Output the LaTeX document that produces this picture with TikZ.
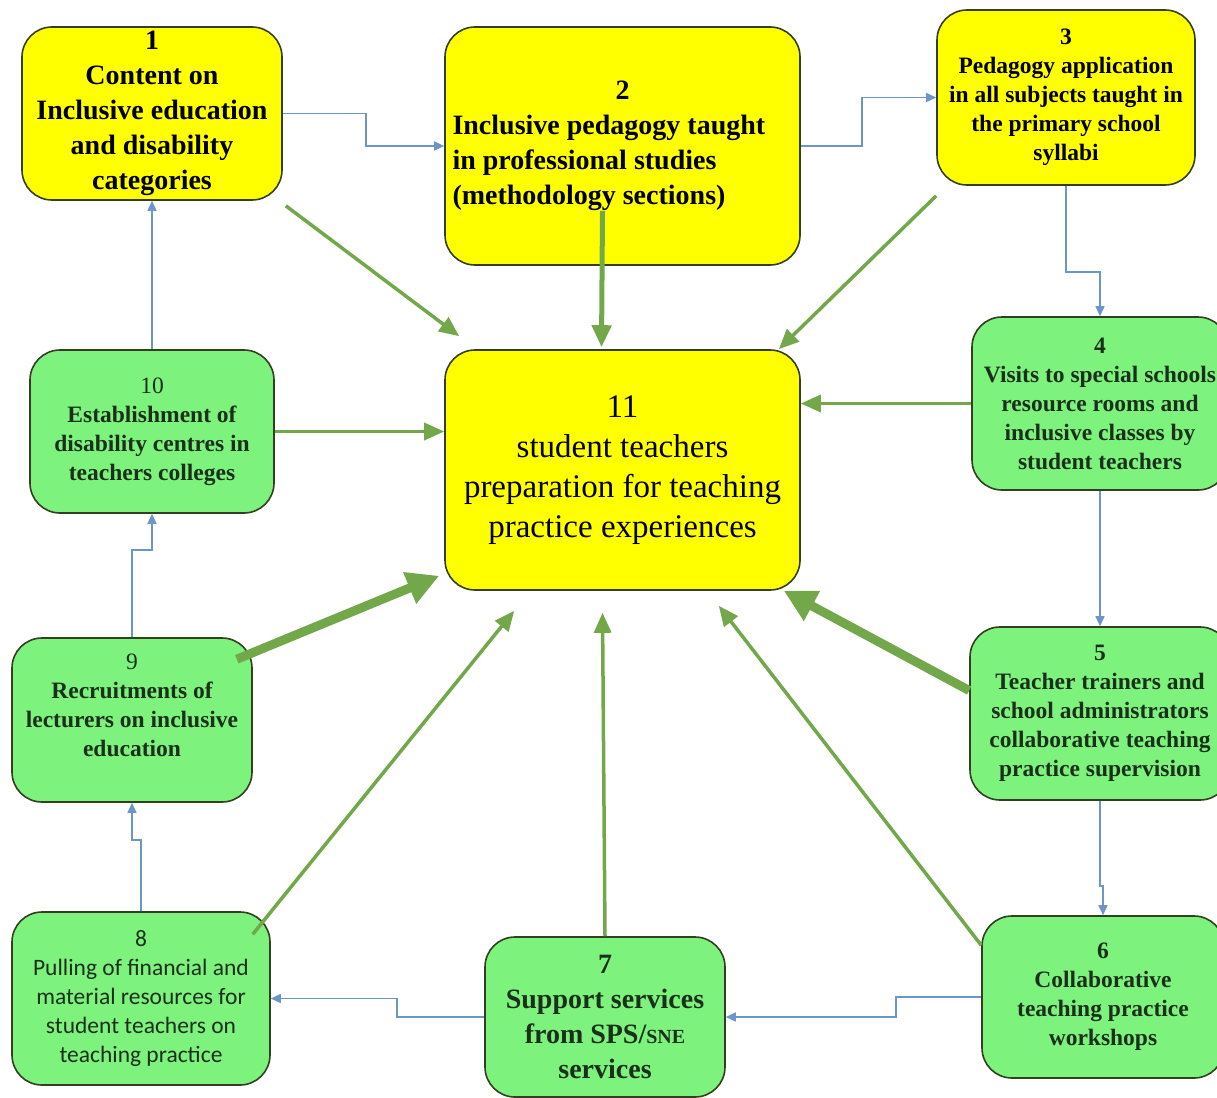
\documentclass[tikz,border=0pt]{standalone}
\usepackage{fontspec}
\setmainfont{LiberationSerif}[Extension=.ttf, UprightFont=*-Regular, BoldFont=*-Bold, ItalicFont=*-Italic, BoldItalicFont=*-BoldItalic]
\newfontfamily\calib{Carlito}
\usetikzlibrary{arrows.meta,calc}
\definecolor{ylw}{HTML}{FFFF00}
\definecolor{grn}{HTML}{7DF27D}
\definecolor{bord}{HTML}{333F22}
\definecolor{arrg}{HTML}{72A84A}
\definecolor{arrb}{HTML}{6C96C8}
\definecolor{gtxt}{HTML}{1B301B}
\begin{document}
\begin{tikzpicture}[x=1pt,y=-1pt,
  box/.style={draw=bord, line width=1.6pt, rounded corners=30pt, inner sep=0pt, align=center},
  ybox/.style={box, fill=ylw, text=black},
  gbox/.style={box, fill=grn, text=gtxt},
  bigf/.style={font=\fontsize{28}{35}\selectfont\bfseries},
  midf/.style={font=\fontsize{23.5}{29}\selectfont\bfseries},
  blu/.style={draw=arrb, line width=1.5pt, -{Triangle[length=10pt,width=9pt]}},
  gthin/.style={draw=arrg, line width=3.5pt, -{Triangle[length=20pt,width=17pt]}},
  gmid/.style={draw=arrg, line width=5pt, -{Triangle[length=22pt,width=19pt]}},
  gthick/.style={draw=arrg, line width=9pt, -{Triangle[length=32pt,width=32pt]}}
]
\useasboundingbox (0,0) rectangle (1217,1097);
\fill[white] (0,0) rectangle (1217,1097);
\clip (0,0) rectangle (1217,1097);

% boxes
\node[ybox, bigf, minimum width=260pt, minimum height=173pt] (b1) at (152,113.5)
  {1\\Content on\\Inclusive education\\and disability\\categories};
\node[ybox, bigf, minimum width=355pt, minimum height=238pt, align=left] (b2) at (622.5,146)
  {\makebox[340pt]{2}\\Inclusive pedagogy taught\\in professional studies\\(methodology sections)};
\node[ybox, midf, minimum width=258pt, minimum height=175pt] (b3) at (1066,97.5)
  {3\\Pedagogy application\\in all subjects taught in\\the primary school\\syllabi};
\node[gbox, midf, minimum width=256pt, minimum height=173pt] (b4) at (1100,403.5)
  {4\\Visits to special schools\\resource rooms and\\inclusive classes by\\student teachers};
\node[gbox, midf, minimum width=260pt, minimum height=173pt] (b5) at (1100,713.5)
  {5\\Teacher trainers and\\school administrators\\collaborative teaching\\practice supervision};
\node[gbox, midf, minimum width=242pt, minimum height=162pt] (b6) at (1103,997)
  {6\\Collaborative\\teaching practice\\workshops};
\node[gbox, bigf, minimum width=240pt, minimum height=160pt] (b7) at (605,1017)
  {7\\Support services\\from SPS/{\fontsize{20}{35}\selectfont SNE}\\services};
\node[gbox, font=\calib\fontsize{23.5}{29}\selectfont, minimum width=258pt, minimum height=173pt] (b8) at (141,998.5)
  {8\\Pulling of financial and\\material resources for\\student teachers on\\teaching practice};
\node[gbox, midf, minimum width=240pt, minimum height=164pt] (b9) at (132,720)
  {{\mdseries 9}\\Recruitments of\\lecturers on inclusive\\education\\\mbox{}};
\node[gbox, midf, minimum width=244pt, minimum height=163pt] (b10) at (152,431.5)
  {{\mdseries 10}\\Establishment of\\disability centres in\\teachers colleges};
\node[ybox, font=\fontsize{33}{40}\selectfont, minimum width=355pt, minimum height=240pt] (b11) at (622.5,470)
  {11\\student teachers\\preparation for teaching\\practice experiences};

% blue cycle connectors
\draw[blu] (b1.east) -| (366,146) -- (b2.west);
\draw[blu] (b2.east) -| (862,97.5) -- (b3.west);
\draw[blu] (b3.south) |- (1100,272) -- (b4.north);
\draw[blu] (b4.south) -- (b5.north);
\draw[blu] (b5.south) |- (1103,886) -- (b6.north);
\draw[blu] (b6.west) -| (896,1017) -- (b7.east);
\draw[blu] (b7.west) -| (397,998.5) -- (b8.east);
\draw[blu] (b8.north) |- (132,840) -- (b9.south);
\draw[blu] (b9.north) |- (152,550) -- (b10.south);
\draw[blu] (b10.north) -- (b1.south);

% green connectors to the centre
\draw[gthin] ($(b1.south east)+(3,5)$) -- ($(b11.north west)+(15,-13)$);
\draw[gmid] ($(b2.south)+(-20,-55)$) -- ($(b11.north)+(-21,-2)$);
\draw[gthin] ($(b3.south west)+(0,10)$) -- ($(b11.north east)+(-22,0)$);
\draw[gthin] (b4.west) -- (b11.east |- b4.west);
\draw[gthick] ($(b5.west)+(0,-23)$) -- ($(b11.south east)+(-17,0)$);
\draw[gthin] ($(b6.north west)+(0,30)$) -- ($(b11.south east)+(-82,15)$);
\draw[gthin] (b7.north) -- ($(b11.south)+(-20,22)$);
\draw[gthin] ($(b8.north east)+(-18,23)$) -- ($(b11.south west)+(70,20)$);
\draw[gthick] ($(b9.north east)+(-16,22)$) -- ($(b11.south west)+(-5,-15)$);
\draw[gthin] (b10.east) -- (b11.west |- b10.east);
\end{tikzpicture}
\end{document}
